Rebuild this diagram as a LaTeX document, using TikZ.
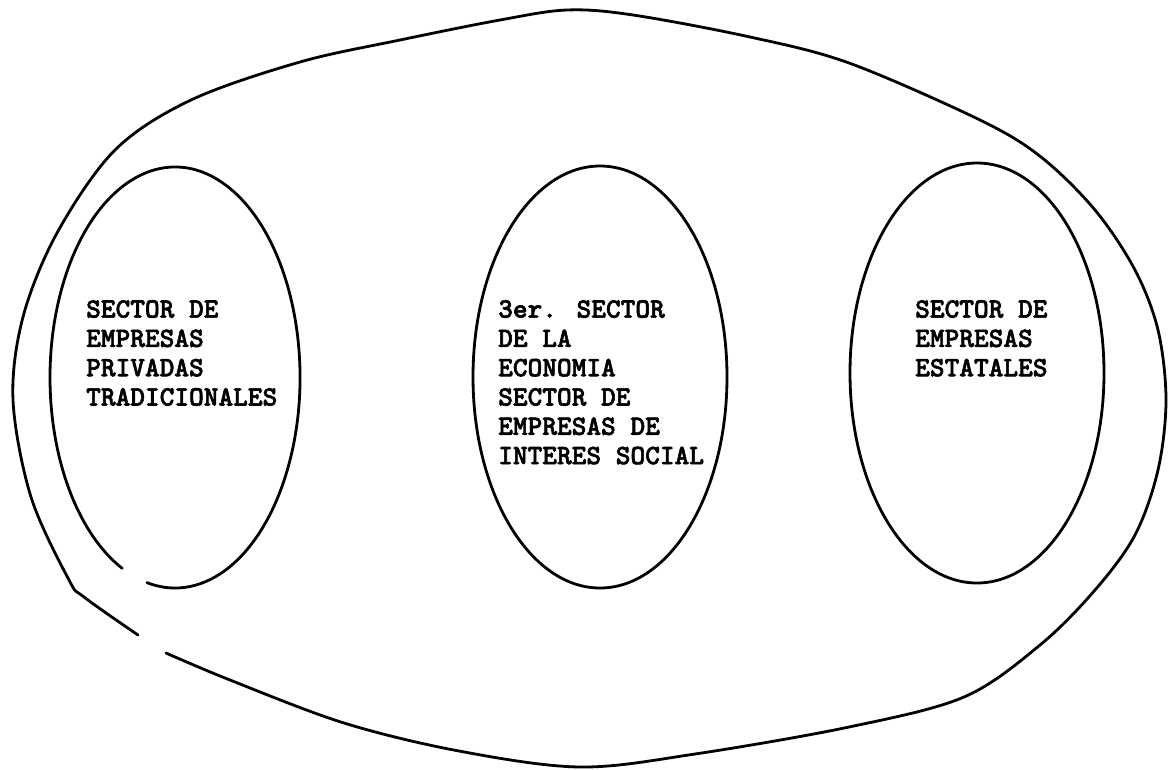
\documentclass[tikz,border=0pt]{standalone}
\usepackage{fontspec}
\newfontfamily\typewriter{lmmonolt10-bold.otf}[FakeBold=2]
\begin{document}
\begin{tikzpicture}[x=1pt,y=-1pt,
  curve/.style={line width=2.8pt, line join=round, line cap=round},
  label/.style={anchor=north west, inner sep=0pt, align=left,
    font=\typewriter\fontsize{28}{29.3}\selectfont}]
\useasboundingbox (0,0) rectangle (1172,769);
% outer egg-shaped boundary (small break at lower left)
\draw[curve] plot[smooth, tension=0.55] coordinates {
  (166,653) (230,680) (344,723) (459,751) (580,767) (695,754) (849,727)
  (964,697) (1040,645) (1095,590) (1135,535) (1158,470) (1166,400)
  (1158,330) (1135,270) (1095,210) (1041,157) (980,120) (849,63) (750,37)
  (633,15) (567,10) (500,20) (400,40) (300,62) (191,100) (115,150) (57,233)
  (23,317) (13,400) (31,497) (69,580) (84,597) (138,635)};
% left ellipse (small break at lower left)
\draw[curve] (122.2,568.3) arc[start angle=115, end angle=463, x radius=125, y radius=210.5];
% middle ellipse
\draw[curve] (600,377) ellipse[x radius=127, y radius=211];
% right ellipse
\draw[curve] (977,373) ellipse[x radius=127, y radius=210];
% texts
\node[label] (privadas) at (86,300) {SECTOR DE\\EMPRESAS\\PRIVADAS\\TRADICIONALES};
\node[label] (tercer) at (498,300) {3er. SECTOR\\DE LA\\ECONOMIA\\SECTOR DE\\EMPRESAS DE\\INTERES SOCIAL};
\node[label] (estatales) at (915,300) {SECTOR DE\\EMPRESAS\\ESTATALES};
\end{tikzpicture}
\end{document}
